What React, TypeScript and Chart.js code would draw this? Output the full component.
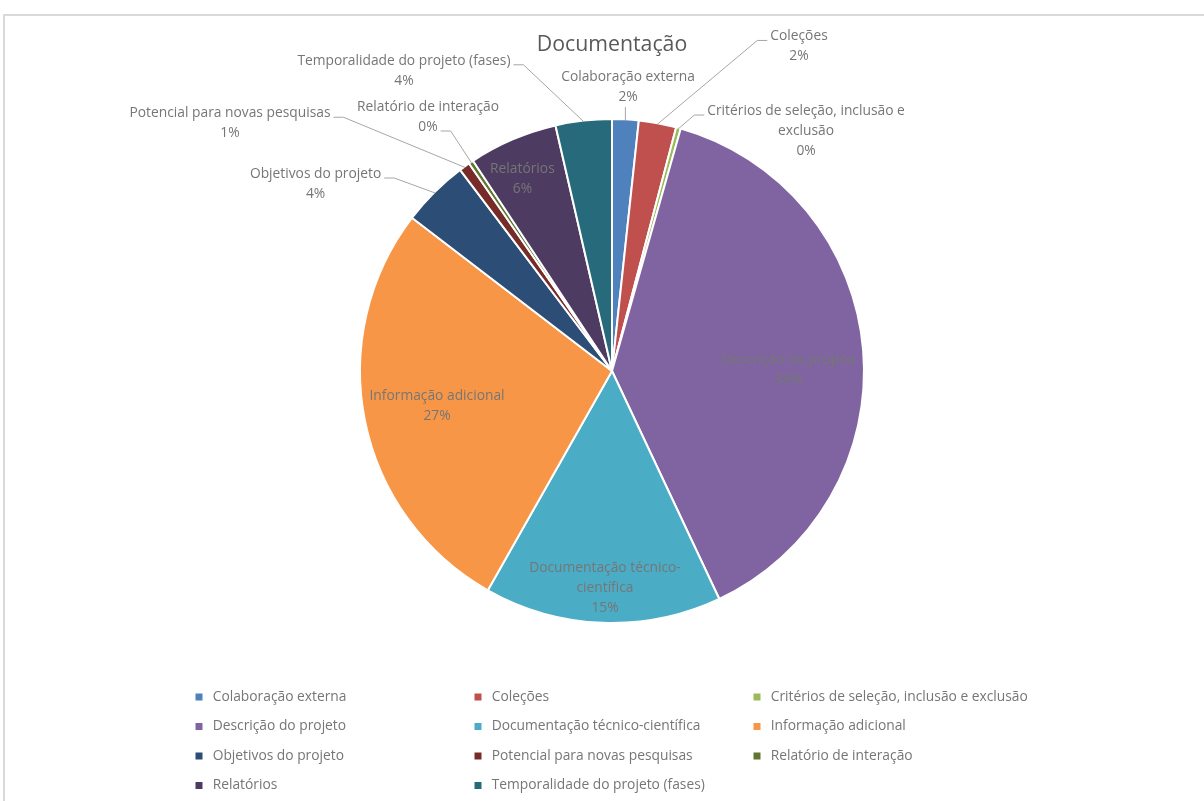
import React, { useEffect, useRef } from 'react';
import { Chart, registerables } from 'chart.js';

Chart.register(...registerables);

const title = 'Documentação';

const categories = [
  'Colaboração externa',
  'Coleções',
  'Critérios de seleção, inclusão e exclusão',
  'Descrição do projeto',
  'Documentação técnico-científica',
  'Informação adicional',
  'Objetivos do projeto',
  'Potencial para novas pesquisas',
  'Relatório de interação',
  'Relatórios',
  'Temporalidade do projeto (fases)',
];

const values = [1.7, 2.4, 0.3, 38.6, 15.2, 27.2, 4.3, 0.7, 0.3, 5.7, 3.6];

const colors = [
  '#4F81BD', '#C0504D', '#9BBB59', '#8064A2', '#4BACC6', '#F79646',
  '#2C4D75', '#772C2A', '#5F7530', '#4D3B62', '#276A7C',
];

// how each data label's category name is wrapped
const labelLines = [
  ['Colaboração externa'],
  ['Coleções'],
  ['Critérios de seleção, inclusão e', 'exclusão'],
  ['Descrição do projeto'],
  ['Documentação técnico-', 'científica'],
  ['Informação adicional'],
  ['Objetivos do projeto'],
  ['Potencial para novas pesquisas'],
  ['Relatório de interação'],
  ['Relatórios'],
  ['Temporalidade do projeto (fases)'],
];

// label block centre relative to the pie centre, in radius units, and leader style
const labelLayout = [
  { dx: 0.064, dy: -1.131, leader: 'bottom', line: 0 },
  { dx: 0.745, dy: -1.293, leader: 'left', line: 0 },
  { dx: 0.773, dy: -0.956, leader: 'left', line: 0 },
  { dx: 0.703, dy: -0.004, leader: 'none', line: 0 },
  { dx: -0.028, dy: 0.865, leader: 'none', line: 0 },
  { dx: -0.697, dy: 0.141, leader: 'none', line: 0 },
  { dx: -1.181, dy: -0.745, leader: 'right', line: 0 },
  { dx: -1.522, dy: -0.987, leader: 'right', line: 0 },
  { dx: -0.733, dy: -1.012, leader: 'right', line: 1 },
  { dx: -0.357, dy: -0.766, leader: 'none', line: 0 },
  { dx: -0.829, dy: -1.196, leader: 'right', line: 0 },
];

const FONT = '"Open Sans", "Noto Sans", "DejaVu Sans", sans-serif';
const LABEL_SIZE = 13.8;
const TITLE_SIZE = 21.3;
const LABEL_COLOR = '#767676';
const TITLE_COLOR = '#595959';
const LEADER_COLOR = '#a6a6a6';

const decorPlugin = {
  id: 'decor',
  beforeDraw(chart: any) {
    const ctx = chart.ctx;
    ctx.save();
    ctx.strokeStyle = '#d9d9d9';
    ctx.lineWidth = 2;
    ctx.strokeRect(4, 15, 1400, 1000);
    ctx.restore();
  },
  afterDatasetsDraw(chart: any) {
    const ctx = chart.ctx;
    const meta = chart.getDatasetMeta(0);
    const data = chart.data.datasets[0].data as number[];
    const total = data.reduce((a, b) => a + b, 0);
    ctx.save();
    const lh = 20;
    let pieX = 0;
    meta.data.forEach((arc: any, i: number) => {
      const { x, y, startAngle, endAngle, outerRadius } = arc.getProps(
        ['x', 'y', 'startAngle', 'endAngle', 'outerRadius'],
        true
      );
      pieX = x;
      const r = outerRadius - 1;
      const L = labelLayout[i];
      const pct = Math.round((data[i] / total) * 100);
      const lines = [...labelLines[i], pct + '%'];
      const cx = x + L.dx * r;
      const cy = y + L.dy * r;
      const top = cy - ((lines.length - 1) * lh) / 2;
      ctx.font = `${LABEL_SIZE}px ${FONT}`;
      ctx.fillStyle = LABEL_COLOR;
      ctx.textAlign = 'center';
      ctx.textBaseline = 'middle';
      lines.forEach((t, k) => ctx.fillText(t, cx, top + k * lh));

      const mid = (startAngle + endAngle) / 2;
      const ax = x + Math.cos(mid) * r;
      const ay = y + Math.sin(mid) * r;
      ctx.strokeStyle = LEADER_COLOR;
      ctx.lineWidth = 1;
      ctx.beginPath();
      if (L.leader === 'right' || L.leader === 'left') {
        const w = ctx.measureText(lines[L.line]).width;
        const ly = top + L.line * lh + 4;
        const dir = L.leader === 'right' ? 1 : -1;
        const sx = cx + dir * (w / 2 + 3);
        ctx.moveTo(sx, ly);
        ctx.lineTo(sx + dir * 10, ly);
        ctx.lineTo(ax, ay);
        ctx.stroke();
      } else if (L.leader === 'bottom') {
        const by = top + (lines.length - 1) * lh + 10;
        ctx.moveTo(ax, by);
        ctx.lineTo(ax, ay);
        ctx.stroke();
      }
    });

    // title
    ctx.font = `${TITLE_SIZE}px ${FONT}`;
    ctx.fillStyle = TITLE_COLOR;
    ctx.textAlign = 'center';
    ctx.textBaseline = 'middle';
    ctx.fillText(title, pieX, 45);

    // legend, three columns
    const colX0 = 199;
    const colStep = 279;
    const rowY0 = 697;
    const rowStep = 29.5;
    ctx.font = `${LABEL_SIZE}px ${FONT}`;
    ctx.textAlign = 'left';
    chart.data.labels.forEach((lab: string, i: number) => {
      const col = i % 3;
      const row = Math.floor(i / 3);
      const mx = colX0 + col * colStep;
      const my = rowY0 + row * rowStep;
      ctx.fillStyle = (chart.data.datasets[0].backgroundColor as string[])[i];
      ctx.fillRect(mx - 3.5, my - 3.5, 7, 7);
      ctx.fillStyle = LABEL_COLOR;
      ctx.fillText(lab, mx + 13.7, my);
    });
    ctx.restore();
  },
};

export default function App() {
  const ref = useRef<HTMLCanvasElement | null>(null);
  useEffect(() => {
    if (!ref.current) return;
    const chart = new Chart(ref.current, {
      type: 'pie',
      data: {
        labels: categories,
        datasets: [
          {
            data: values,
            backgroundColor: colors,
            borderColor: '#ffffff',
            borderWidth: 2,
            hoverBorderWidth: 2,
          },
        ],
      },
      options: {
        responsive: false,
        animation: false,
        events: [],
        layout: { padding: { left: 359, right: 339, top: 118, bottom: 177 } },
        plugins: {
          legend: { display: false },
          title: { display: false },
          tooltip: { enabled: false },
        },
      },
      plugins: [decorPlugin],
    });
    return () => chart.destroy();
  }, []);
  return (
    <div style={{ position: 'fixed', left: 0, top: 0, width: 1204, height: 801, background: '#fff' }}>
      <canvas ref={ref} width={1204} height={801} />
    </div>
  );
}
